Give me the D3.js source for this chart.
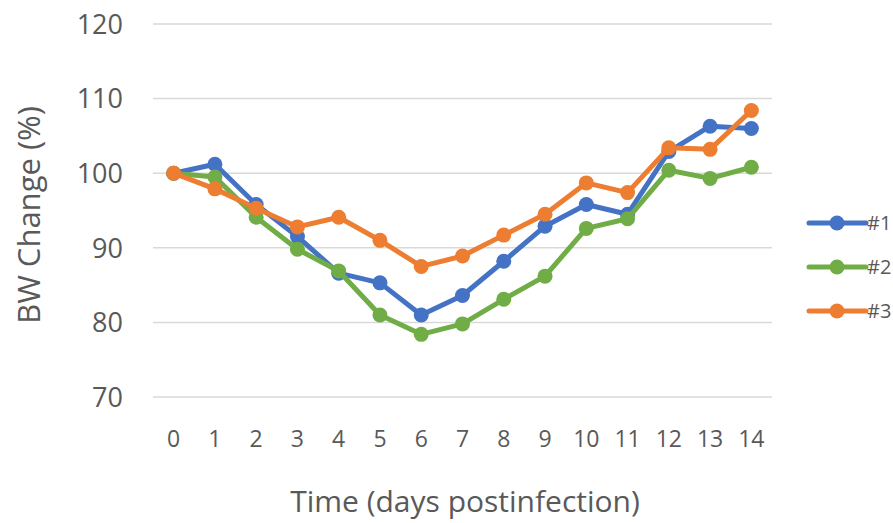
<!DOCTYPE html>
<html>
<head>
<meta charset="utf-8">
<script src="https://cdn.jsdelivr.net/npm/d3@7"></script>
<style>
  body { margin: 0; background: #fff; }
  text { font-family: "Open Sans", "Noto Sans", sans-serif; fill: #595959; }
</style>
</head>
<body>
<svg id="chart" width="893" height="523"></svg>
<script>
// data
let days = [0, 1, 2, 3, 4, 5, 6, 7, 8, 9, 10, 11, 12, 13, 14];
let mouse1 = [100, 101.2, 95.8, 91.5, 86.6, 85.3, 81.0, 83.6, 88.2, 92.9, 95.8, 94.5, 102.9, 106.3, 106.0];
let mouse2 = [100, 99.5, 94.1, 89.8, 86.9, 81.0, 78.4, 79.8, 83.1, 86.2, 92.6, 93.9, 100.4, 99.3, 100.8];
let mouse3 = [100, 97.9, 95.3, 92.8, 94.1, 91.0, 87.5, 88.9, 91.7, 94.5, 98.7, 97.4, 103.4, 103.2, 108.4];
let yTicks = [70, 80, 90, 100, 110, 120];
let seriesNames = ['#1', '#2', '#3'];
let seriesColors = ['#4472c4', '#70ad47', '#ed7d31'];

let series = [mouse1, mouse2, mouse3].map((vals, i) => ({
    name: seriesNames[i],
    color: seriesColors[i],
    values: vals
}));

let plotLeft = 153, plotRight = 772, plotTop = 24, plotBottom = 397;
let svg = d3.select('#chart');

let x = d3.scalePoint()
    .domain(days)
    .range([plotLeft, plotRight])
    .padding(0.5);

let y = d3.scaleLinear()
    .domain([70, 120])
    .range([plotBottom, plotTop]);

// gridlines
svg.append('g')
    .selectAll('line')
    .data(yTicks)
    .enter().append('line')
    .attr('x1', plotLeft).attr('x2', plotRight)
    .attr('y1', d => y(d)).attr('y2', d => y(d))
    .attr('stroke', '#d9d9d9')
    .attr('stroke-width', 1.5);

// y tick labels
svg.append('g')
    .selectAll('text')
    .data(yTicks)
    .enter().append('text')
    .attr('x', 123)
    .attr('y', d => y(d))
    .attr('dy', '0.36em')
    .attr('text-anchor', 'end')
    .style('font-size', '27px')
    .text(d => d);

// x tick labels
svg.append('g')
    .selectAll('text')
    .data(days)
    .enter().append('text')
    .attr('x', d => x(d))
    .attr('y', 447)
    .attr('text-anchor', 'middle')
    .style('font-size', '23px')
    .text(d => d);

// axis titles
svg.append('text')
    .attr('transform', 'translate(40,215) rotate(-90)')
    .attr('text-anchor', 'middle')
    .style('font-size', '31px')
    .text('BW Change (%)');

svg.append('text')
    .attr('x', 465)
    .attr('y', 512)
    .attr('text-anchor', 'middle')
    .style('font-size', '30px')
    .text('Time (days postinfection)');

// lines + markers
let line = d3.line()
    .x((d, i) => x(days[i]))
    .y(d => y(d));

let g = svg.append('g')
    .selectAll('g')
    .data(series)
    .enter().append('g');

g.append('path')
    .attr('d', d => line(d.values))
    .attr('fill', 'none')
    .attr('stroke', d => d.color)
    .attr('stroke-width', 5)
    .attr('stroke-linejoin', 'round');

g.selectAll('circle')
    .data(d => d.values.map(v => ({v: v, color: d.color})))
    .enter().append('circle')
    .attr('cx', (d, i) => x(days[i]))
    .attr('cy', d => y(d.v))
    .attr('r', 7.5)
    .attr('fill', d => d.color);

// legend
let legend = svg.append('g')
    .selectAll('g')
    .data(series)
    .enter().append('g')
    .attr('transform', (d, i) => `translate(809,${223 + i * 44})`);

legend.append('line')
    .attr('x1', 0).attr('x2', 57)
    .attr('stroke', d => d.color)
    .attr('stroke-width', 5)
    .attr('stroke-linecap', 'round');

legend.append('circle')
    .attr('cx', 28)
    .attr('r', 7.5)
    .attr('fill', d => d.color);

legend.append('text')
    .attr('x', 58)
    .attr('dy', '0.36em')
    .style('font-size', '20px')
    .text(d => d.name);
</script>
</body>
</html>
